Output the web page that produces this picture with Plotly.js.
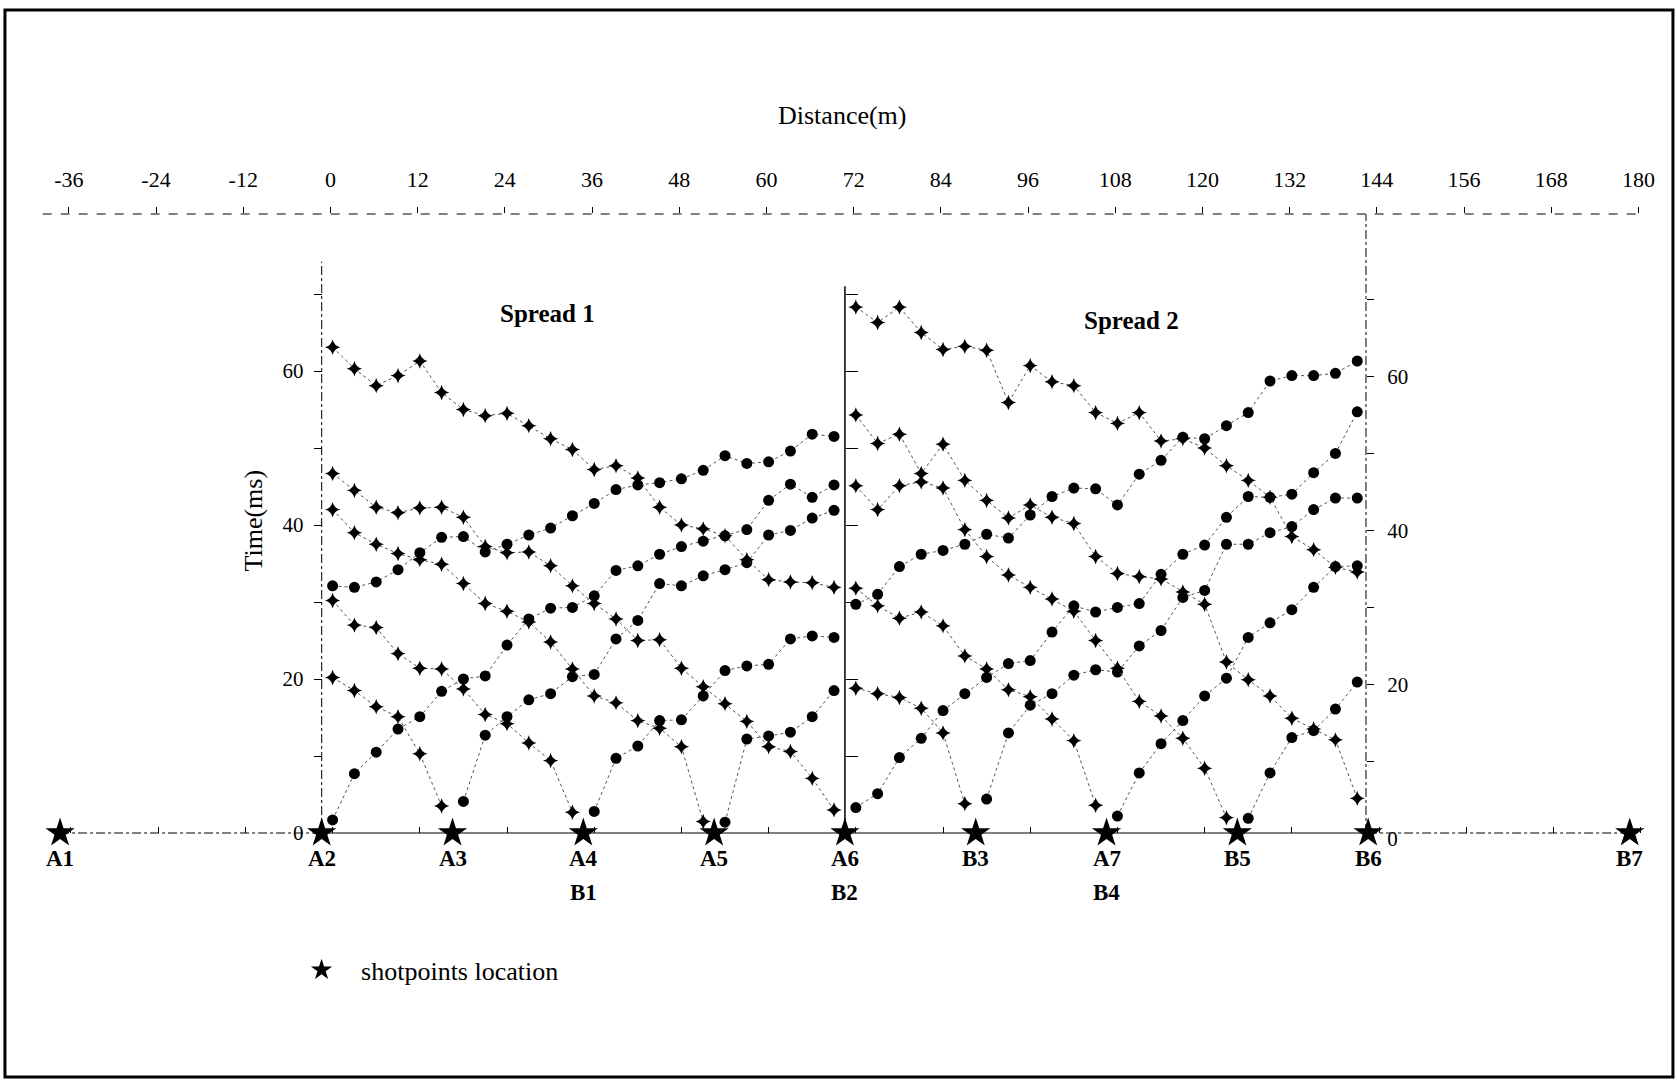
<!DOCTYPE html>
<html><head><meta charset="utf-8">
<script src="https://cdn.plot.ly/plotly-3.0.1.min.js"></script>
<style>html,body{margin:0;padding:0;background:#fff;}#chart{width:1677px;height:1082px;}</style>
</head><body><div id="chart"></div>
<script>
// ---------- receiver positions (m) ----------
const spread1X = [1.5,4.5,7.5,10.5,13.5,16.5,19.5,22.5,25.5,28.5,31.5,34.5,37.5,40.5,43.5,46.5,49.5,52.5,55.5,58.5,61.5,64.5,67.5,70.5];
const spread2X = [73.5,76.5,79.5,82.5,85.5,88.5,91.5,94.5,97.5,100.5,103.5,106.5,109.5,112.5,115.5,118.5,121.5,124.5,127.5,130.5,133.5,136.5,139.5,142.5];

// ---------- Spread 1 first-arrival times (ms) ----------
const a1Forward = [32.1,31.9,32.6,34.2,36.4,38.4,38.5,36.5,37.5,38.7,39.6,41.2,42.8,44.6,45.2,45.5,46.0,47.1,49.0,48.0,48.2,49.6,51.8,51.5];
const a2Forward = [1.7,7.7,10.5,13.5,15.1,18.4,20.0,20.4,24.4,27.8,29.2,29.3,30.8,34.1,34.7,36.2,37.2,37.9,38.6,39.4,43.2,45.3,43.6,45.2];
const a3Forward = [4.1,12.7,15.1,17.3,18.1,20.3,20.6,25.2,27.6,32.4,32.1,33.4,34.2,35.1,38.7,39.3,40.9,41.9];   // from 19.5 m
const a4Forward = [2.8,9.7,11.3,14.6,14.7,17.8,21.1,21.7,21.9,25.2,25.6,25.4];                              // from 37.5 m
const a5Forward = [1.4,12.2,12.6,13.1,15.1,18.5];                                                          // from 55.5 m
const a3Reverse = [20.2,18.5,16.4,15.1,10.3,3.5];                                                          // to 16.5 m
const a4Reverse = [30.2,27.0,26.7,23.3,21.4,21.3,18.7,15.4,14.2,11.7,9.4,2.7];                             // to 34.5 m
const a5Reverse = [42.0,39.0,37.5,36.3,35.5,34.9,32.4,29.8,28.8,27.4,24.8,21.3,17.8,16.9,14.6,13.6,11.2,1.5]; // to 52.5 m
const a6Reverse = [46.7,44.5,42.3,41.6,42.2,42.3,41.0,37.2,36.4,36.5,34.7,32.1,29.8,27.8,25.0,25.1,21.4,19.0,16.8,14.5,11.2,10.6,7.1,3.0];
const a7Reverse = [63.1,60.3,58.1,59.4,61.3,57.2,55.0,54.2,54.5,52.9,51.2,49.8,47.2,47.7,46.1,42.3,40.0,39.5,38.6,35.5,32.9,32.6,32.5,31.9];

// ---------- Spread 2 first-arrival times (ms) ----------
const b1Forward = [29.7,31.0,34.6,36.2,36.7,37.5,38.8,38.3,41.3,43.7,44.8,44.7,42.6,46.6,48.4,51.4,51.2,52.9,54.6,58.7,59.4,59.4,59.7,61.3];
const b2Forward = [3.3,5.1,9.8,12.3,15.9,18.1,20.2,22.0,22.4,26.1,29.5,28.7,29.3,29.8,33.6,36.2,37.4,41.0,43.7,43.6,44.0,46.8,49.3,54.7];
const b3Forward = [4.4,13.0,16.6,18.1,20.5,21.2,20.9,24.3,26.3,30.6,31.5,37.5,37.5,39.0,39.8,42.0,43.5,43.5]; // from 91.5 m
const b4Forward = [2.2,7.8,11.6,14.6,17.8,20.1,25.4,27.3,29.0,31.9,34.6,34.7];                              // from 109.5 m
const b5Forward = [1.9,7.8,12.4,13.3,16.1,19.6];                                                           // from 127.5 m
const b3Reverse = [18.8,18.1,17.6,16.2,13.0,3.8];
const b4Reverse = [31.8,29.5,27.9,28.7,26.9,23.0,21.3,18.6,17.7,14.8,12.0,3.6];
const b5Reverse = [45.1,42.0,45.1,45.6,44.8,39.4,35.9,33.5,31.9,30.4,28.8,25.0,21.4,17.1,15.2,12.3,8.4,2.0];
const b6Reverse = [54.3,50.6,51.8,46.7,50.5,45.8,43.2,40.9,42.6,41.0,40.2,35.9,33.7,33.3,33.0,31.3,29.7,22.2,19.9,17.8,14.9,13.5,12.1,4.5];
const b7Reverse = [68.3,66.3,68.3,65.0,62.8,63.2,62.7,55.9,60.7,58.6,58.1,54.6,53.2,54.6,50.9,51.2,50.0,47.7,45.8,43.6,38.5,36.8,34.5,33.9];

// ---------- shot points ----------
const shotX = [-36,0,18,36,54,72,90,108,126,144,180];
const shotT = [0,0,0,0,0,0,0,0,0,0,0];
const shotLabels = ['A1','A2','A3','A4','A5','A6','B3','A7','B5','B6','B7'];
const shotLabels2 = ['','','','B1','','B2','','B4','','',''];

// ---------- ticks ----------
const distTicks = [-36,-24,-12,0,12,24,36,48,60,72,84,96,108,120,132,144,156,168,180];
const distTickText = ['-36','-24','-12','0','12','24','36','48','60','72','84','96','108','120','132','144','156','168','180'];
const timeTicks = [0,10,20,30,40,50,60,70];
const timeTickText = ['0','','20','','40','','60',''];
const dividerTicks = [10,20,30,40,50,60,70];

// ---------- layout constants ----------
const X0 = -41.93, X1 = 181.96, Y0 = -30.78, Y1 = 80.39;
const TOP_SHIFT = 1.2, BASE_SHIFT = 1.5, RIGHT_SHIFT = 0.7;
const SERIF = 'Liberation Serif, Times New Roman, serif';
const px = m => (m - X0) / (X1 - X0);
const py = t => (t - Y0) / (Y1 - Y0);

function series(xs, ys, kind) {
  return {
    type: 'scatter', mode: 'lines+markers', x: xs, y: ys, showlegend: false, hoverinfo: 'skip',
    line: {color: '#555', width: 1, dash: 'dot'},
    marker: kind === 'dot' ? {symbol: 'circle', size: 11, color: '#000'}
                           : {symbol: 'star-diamond', size: 11, color: '#000'}
  };
}

const traces = [
  series(spread1X, a1Forward, 'dot'),
  series(spread1X, a2Forward, 'dot'),
  series(spread1X.slice(6), a3Forward, 'dot'),
  series(spread1X.slice(12), a4Forward, 'dot'),
  series(spread1X.slice(18), a5Forward, 'dot'),
  series(spread1X.slice(0, 6), a3Reverse, 'cross'),
  series(spread1X.slice(0, 12), a4Reverse, 'cross'),
  series(spread1X.slice(0, 18), a5Reverse, 'cross'),
  series(spread1X, a6Reverse, 'cross'),
  series(spread1X, a7Reverse, 'cross'),
  series(spread2X, b1Forward, 'dot'),
  series(spread2X, b2Forward, 'dot'),
  series(spread2X.slice(6), b3Forward, 'dot'),
  series(spread2X.slice(12), b4Forward, 'dot'),
  series(spread2X.slice(18), b5Forward, 'dot'),
  series(spread2X.slice(0, 6), b3Reverse, 'cross'),
  series(spread2X.slice(0, 12), b4Reverse, 'cross'),
  series(spread2X.slice(0, 18), b5Reverse, 'cross'),
  series(spread2X, b6Reverse, 'cross'),
  series(spread2X, b7Reverse, 'cross'),
  {type: 'scatter', mode: 'markers', x: shotX, y: shotT, name: '\u00a0\u00a0\u00a0shotpoints location',
   showlegend: true, hoverinfo: 'skip', cliponaxis: false,
   marker: {symbol: 'star', size: 22, color: '#000'}}
];

// invisible placeholders so that the decorative overlay axes get drawn
[['x2', 'y'], ['x3', 'y'], ['x', 'y2'], ['x', 'y3'], ['x', 'y4']].forEach(([xa, ya]) => {
  traces.push({type: 'scatter', mode: 'markers', x: [X0 - 100], y: [Y0 - 100], xaxis: xa, yaxis: ya,
    marker: {opacity: 0}, showlegend: false, hoverinfo: 'skip'});
});

const annotations = [];
shotX.forEach((x, i) => {
  annotations.push({x: x, y: -3.35, xref: 'x', yref: 'y', text: '<b>' + shotLabels[i] + '</b>',
    showarrow: false, xanchor: 'center', yanchor: 'middle', font: {family: SERIF, size: 23, color: '#000'}});
  if (shotLabels2[i]) annotations.push({x: x, y: -7.79, xref: 'x', yref: 'y', text: '<b>' + shotLabels2[i] + '</b>',
    showarrow: false, xanchor: 'center', yanchor: 'middle', font: {family: SERIF, size: 23, color: '#000'}});
});
annotations.push({x: 31.1, y: 67.5, xref: 'x', yref: 'y', text: '<b>Spread 1</b>', showarrow: false,
  xanchor: 'center', yanchor: 'middle', font: {family: SERIF, size: 25, color: '#000'}});
annotations.push({x: 111.4, y: 66.6, xref: 'x', yref: 'y', text: '<b>Spread 2</b>', showarrow: false,
  xanchor: 'center', yanchor: 'middle', font: {family: SERIF, size: 25, color: '#000'}});
annotations.push({x: 0.1454, y: 0.6414, xref: 'paper', yref: 'paper', text: 'Time(ms)', textangle: -90,
  xanchor: 'center', yanchor: 'middle', showarrow: false, font: {family: SERIF, size: 26, color: '#000'}});
annotations.push({x: 0.5071, y: 1.1151, xref: 'paper', yref: 'paper', text: 'Distance(m)',
  xanchor: 'center', yanchor: 'middle', showarrow: false, font: {family: SERIF, size: 26, color: '#000'}});

const ln = (x0, y0, x1, y1, dash, w) => ({type: 'line', xref: 'x', yref: 'y', x0, y0, x1, y1,
  line: {color: '#000', width: w || 1, dash: dash || 'solid'}});
const shapes = [
  {type: 'rect', xref: 'paper', yref: 'paper', x0: -0.0074, x1: 1.0178, y0: -0.0082, y1: 1.2383,
   line: {color: '#000', width: 3}},
  {type: 'line', xref: 'x', yref: 'paper', x0: -38.4, x1: 181.7, y0: 1, y1: 1, line: {color: '#000', width: 1, dash: 'dash'}},
  ln(-36, 0, 0, 0, 'dashdot'),
  ln(0, 0, 144, 0, 'solid'),
  ln(144, 0, 180, 0, 'dashdot'),
  ln(0, 0, 0, 74.2, 'dashdot'),
  ln(72, 0, 72, 71, 'solid', 1.5),
  ln(143.7, 0, 143.7, Y1, 'dashdot')
];

const axBase = {showgrid: false, zeroline: false, showline: false};
const layout = {
  width: 1677, height: 1082,
  margin: {l: 17, r: 33, t: 214, b: 12, pad: 0},
  paper_bgcolor: '#fff', plot_bgcolor: '#fff',
  font: {family: SERIF, color: '#000'},
  xaxis: Object.assign({}, axBase, {range: [X0, X1], visible: false}),
  yaxis: Object.assign({}, axBase, {range: [Y0, Y1], visible: false}),
  xaxis2: Object.assign({}, axBase, {overlaying: 'x', side: 'top', anchor: 'y',
    range: [X0 - TOP_SHIFT, X1 - TOP_SHIFT], tickmode: 'array', tickvals: distTicks, ticktext: distTickText,
    ticks: 'outside', ticklen: 6, tickcolor: '#000', tickwidth: 1, ticklabelstandoff: 11,
    tickfont: {family: SERIF, size: 22, color: '#000'}}),
  xaxis3: Object.assign({}, axBase, {overlaying: 'x', anchor: 'free', position: py(0), side: 'bottom',
    range: [X0 - BASE_SHIFT, X1 - BASE_SHIFT], tickmode: 'array', tickvals: distTicks,
    ticks: 'inside', ticklen: 6, tickcolor: '#000', showticklabels: false}),
  yaxis2: Object.assign({}, axBase, {overlaying: 'y', anchor: 'free', position: px(0), side: 'left',
    range: [Y0, Y1], tickmode: 'array', tickvals: timeTicks, ticktext: timeTickText,
    ticks: 'outside', ticklen: 8, tickcolor: '#000', ticklabelstandoff: 6,
    tickfont: {family: SERIF, size: 21, color: '#000'}}),
  yaxis3: Object.assign({}, axBase, {overlaying: 'y', anchor: 'free', position: px(143.7), side: 'right',
    range: [Y0 + RIGHT_SHIFT, Y1 + RIGHT_SHIFT], tickmode: 'array', tickvals: timeTicks, ticktext: timeTickText,
    ticks: 'outside', ticklen: 7, tickcolor: '#000', ticklabelstandoff: 9,
    tickfont: {family: SERIF, size: 21, color: '#000'}}),
  yaxis4: Object.assign({}, axBase, {overlaying: 'y', anchor: 'free', position: px(72), side: 'left',
    range: [Y0, Y1], tickmode: 'array', tickvals: dividerTicks,
    ticks: 'inside', ticklen: 12, tickcolor: '#000', showticklabels: false}),
  showlegend: true,
  legend: {x: 0.1749, y: py(-17.8), xanchor: 'left', yanchor: 'middle', bgcolor: 'rgba(0,0,0,0)',
    borderwidth: 0, font: {family: SERIF, size: 26, color: '#000'}, itemsizing: 'trace'},
  annotations: annotations,
  shapes: shapes
};

Plotly.newPlot('chart', traces, layout, {staticPlot: true, displayModeBar: false});
</script>
</body></html>
